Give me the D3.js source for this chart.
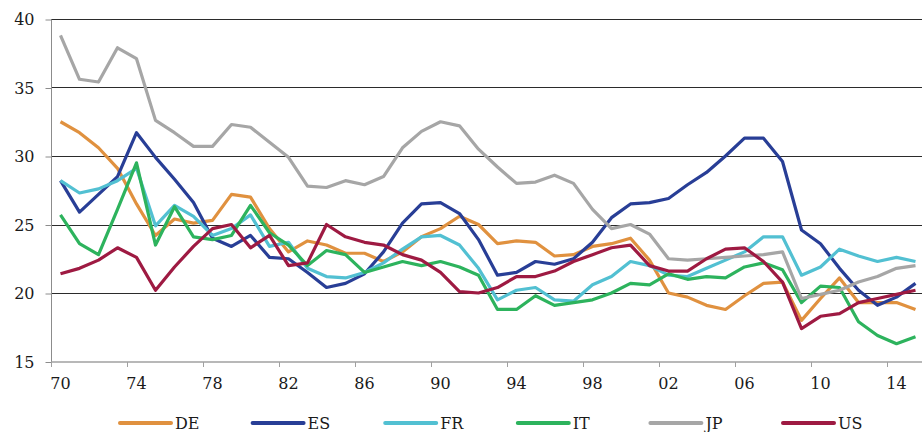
<!DOCTYPE html>
<html lang="en">
<head>
    <meta charset="utf-8" />
    <title>Six countries 1970-2015</title>
    <script src="https://d3js.org/d3.v7.min.js"></script>
    <style>
        body {
            margin: 0;
            padding: 0;
            background: white;
        }
        svg text {
            font-family: "DejaVu Serif", "Liberation Serif", serif;
            fill: #1a1a1a;
        }
    </style>
</head>
<body>
<svg id="chart"></svg>
<script>
    var w = 922;
    var h = 432;

    // Categories (years) and the labels shown every 4 years
    var years = [1970, 1971, 1972, 1973, 1974, 1975, 1976, 1977, 1978, 1979,
                 1980, 1981, 1982, 1983, 1984, 1985, 1986, 1987, 1988, 1989,
                 1990, 1991, 1992, 1993, 1994, 1995, 1996, 1997, 1998, 1999,
                 2000, 2001, 2002, 2003, 2004, 2005, 2006, 2007, 2008, 2009,
                 2010, 2011, 2012, 2013, 2014, 2015];
    var tickYears = [1970, 1974, 1978, 1982, 1986, 1990, 1994, 1998, 2002, 2006, 2010, 2014];
    var tickLabels = ["70", "74", "78", "82", "86", "90", "94", "98", "02", "06", "10", "14"];
    var yTicks = [15, 20, 25, 30, 35, 40];

    // Series values
    var DE = [32.5, 31.7, 30.6, 29.1, 26.5, 24.2, 25.4, 25.1, 25.3, 27.2,
              27.0, 24.7, 23.0, 23.8, 23.5, 22.9, 22.9, 22.3, 23.0, 24.1,
              24.7, 25.6, 25.0, 23.6, 23.8, 23.7, 22.7, 22.8, 23.4, 23.6,
              24.0, 22.4, 20.0, 19.7, 19.1, 18.8, 19.8, 20.7, 20.8, 18.0,
              19.6, 21.1, 19.3, 19.3, 19.3, 18.8];
    var ES = [28.2, 25.9, 27.2, 28.5, 31.7, 29.9, 28.3, 26.6, 24.0, 23.4,
              24.2, 22.6, 22.5, 21.5, 20.4, 20.7, 21.4, 23.0, 25.1, 26.5,
              26.6, 25.8, 23.9, 21.3, 21.5, 22.3, 22.1, 22.5, 23.7, 25.5,
              26.5, 26.6, 26.9, 27.9, 28.8, 30.0, 31.3, 31.3, 29.6, 24.6,
              23.6, 21.8, 20.2, 19.1, 19.7, 20.7];
    var FR = [28.2, 27.3, 27.6, 28.2, 29.1, 24.9, 26.4, 25.6, 24.2, 24.7,
              25.7, 23.4, 23.7, 21.8, 21.2, 21.1, 21.5, 22.2, 23.2, 24.1,
              24.2, 23.5, 21.8, 19.5, 20.2, 20.4, 19.5, 19.4, 20.6, 21.2,
              22.3, 22.0, 21.3, 21.2, 21.8, 22.4, 23.0, 24.1, 24.1, 21.3,
              21.9, 23.2, 22.7, 22.3, 22.6, 22.3];
    var IT = [25.7, 23.6, 22.8, 26.1, 29.5, 23.5, 26.3, 24.1, 23.9, 24.2,
              26.4, 24.4, 23.5, 22.0, 23.1, 22.8, 21.5, 21.9, 22.3, 22.0,
              22.3, 21.9, 21.3, 18.8, 18.8, 19.8, 19.1, 19.3, 19.5, 20.0,
              20.7, 20.6, 21.4, 21.0, 21.2, 21.1, 21.9, 22.2, 21.7, 19.3,
              20.5, 20.4, 17.9, 16.9, 16.3, 16.8];
    var JP = [38.8, 35.6, 35.4, 37.9, 37.1, 32.6, 31.7, 30.7, 30.7, 32.3,
              32.1, 31.0, 29.9, 27.8, 27.7, 28.2, 27.9, 28.5, 30.6, 31.8,
              32.5, 32.2, 30.5, 29.2, 28.0, 28.1, 28.6, 28.0, 26.1, 24.7,
              25.0, 24.3, 22.5, 22.4, 22.5, 22.6, 22.7, 22.8, 23.0, 19.6,
              19.9, 20.2, 20.8, 21.2, 21.8, 22.0];
    var US = [21.4, 21.8, 22.4, 23.3, 22.6, 20.2, 21.9, 23.4, 24.7, 25.0,
              23.3, 24.2, 22.0, 22.2, 25.0, 24.1, 23.7, 23.5, 22.8, 22.4,
              21.5, 20.1, 20.0, 20.4, 21.2, 21.2, 21.6, 22.3, 22.8, 23.3,
              23.5, 22.0, 21.6, 21.6, 22.5, 23.2, 23.3, 22.3, 20.8, 17.4,
              18.3, 18.5, 19.3, 19.6, 19.9, 20.2];

    var seriesNames = ["DE", "ES", "FR", "IT", "JP", "US"];
    var seriesValues = [DE, ES, FR, IT, JP, US];
    var colors = ["#e0913f", "#283e96", "#52c0d2", "#2db35d", "#a6a6a6", "#9e1a42"];

    var svg = d3.select("#chart")
                .attr("width", w)
                .attr("height", h);

    // Each year gets a 19px band, the chart runs a little past the right edge
    var xScale = d3.scaleBand()
                .domain(years)
                .range([51, 51 + years.length * 19])
                .padding(0);

    var yScale = d3.scaleLinear()
                .domain([15, 40])
                .range([361.5, 19]);

    function xMid(yr) {
        return xScale(yr) + xScale.bandwidth() / 2;
    }

    // Horizontal gridlines
    svg.selectAll(".grid")
        .data(yTicks.slice(1))
        .enter().append("line")
        .attr("class", "grid")
        .attr("x1", 51)
        .attr("x2", w)
        .attr("y1", function(d) { return Math.round(yScale(d)) + 0.5; })
        .attr("y2", function(d) { return Math.round(yScale(d)) + 0.5; })
        .attr("stroke", "#2b2b2b")
        .attr("stroke-width", 1);

    // Y axis
    var yAxis = d3.axisLeft(yScale)
                .tickValues(yTicks)
                .tickSize(6)
                .tickPadding(11)
                .tickFormat(d3.format("d"));
    var gy = svg.append("g")
        .attr("transform", "translate(51.5,0.5)")
        .call(yAxis);
    gy.select(".domain").attr("stroke", "#8c8c8c").attr("d", "M0," + yScale(40) + "V" + yScale(15));
    gy.selectAll(".tick line").attr("stroke", "#8c8c8c");
    gy.selectAll("text").attr("font-size", "16px").attr("fill", "#1a1a1a");

    // X axis: ticks at band edges, labels at band centres
    var gx = svg.append("g");
    gx.append("line")
        .attr("x1", 51)
        .attr("x2", w)
        .attr("y1", 362)
        .attr("y2", 362)
        .attr("stroke", "#a0a0a0")
        .attr("stroke-width", 1.5);
    gx.selectAll(".xtick")
        .data(tickYears)
        .enter().append("line")
        .attr("class", "xtick")
        .attr("x1", function(d) { return Math.round(xScale(d)) + 0.5; })
        .attr("x2", function(d) { return Math.round(xScale(d)) + 0.5; })
        .attr("y1", 362)
        .attr("y2", 367)
        .attr("stroke", "#a0a0a0");
    gx.selectAll(".xlabel")
        .data(tickYears)
        .enter().append("text")
        .attr("class", "xlabel")
        .attr("x", function(d) { return xMid(d); })
        .attr("y", 389)
        .attr("text-anchor", "middle")
        .attr("font-size", "16px")
        .text(function(d, i) { return tickLabels[i]; });

    // Lines
    var line = d3.line()
                .x(function(d, i) { return xMid(years[i]); })
                .y(function(d) { return yScale(d); });

    svg.selectAll(".series")
        .data(seriesValues)
        .enter().append("path")
        .attr("class", "series")
        .attr("d", line)
        .attr("fill", "none")
        .attr("stroke", function(d, i) { return colors[i]; })
        .attr("stroke-width", 3.2)
        .attr("stroke-linejoin", "round");

    // Legend
    var legend = svg.selectAll(".legend")
        .data(seriesNames)
        .enter().append("g")
        .attr("class", "legend")
        .attr("transform", function(d, i) { return "translate(" + (120 + i * 132.6) + ",423)"; });
    legend.append("line")
        .attr("x1", 0)
        .attr("x2", 51)
        .attr("y1", 0)
        .attr("y2", 0)
        .attr("stroke", function(d, i) { return colors[i]; })
        .attr("stroke-width", 4)
        .attr("stroke-linecap", "round");
    legend.append("text")
        .attr("x", 55)
        .attr("y", 6)
        .attr("font-size", "16px")
        .text(function(d) { return d; });
</script>
</body>
</html>
